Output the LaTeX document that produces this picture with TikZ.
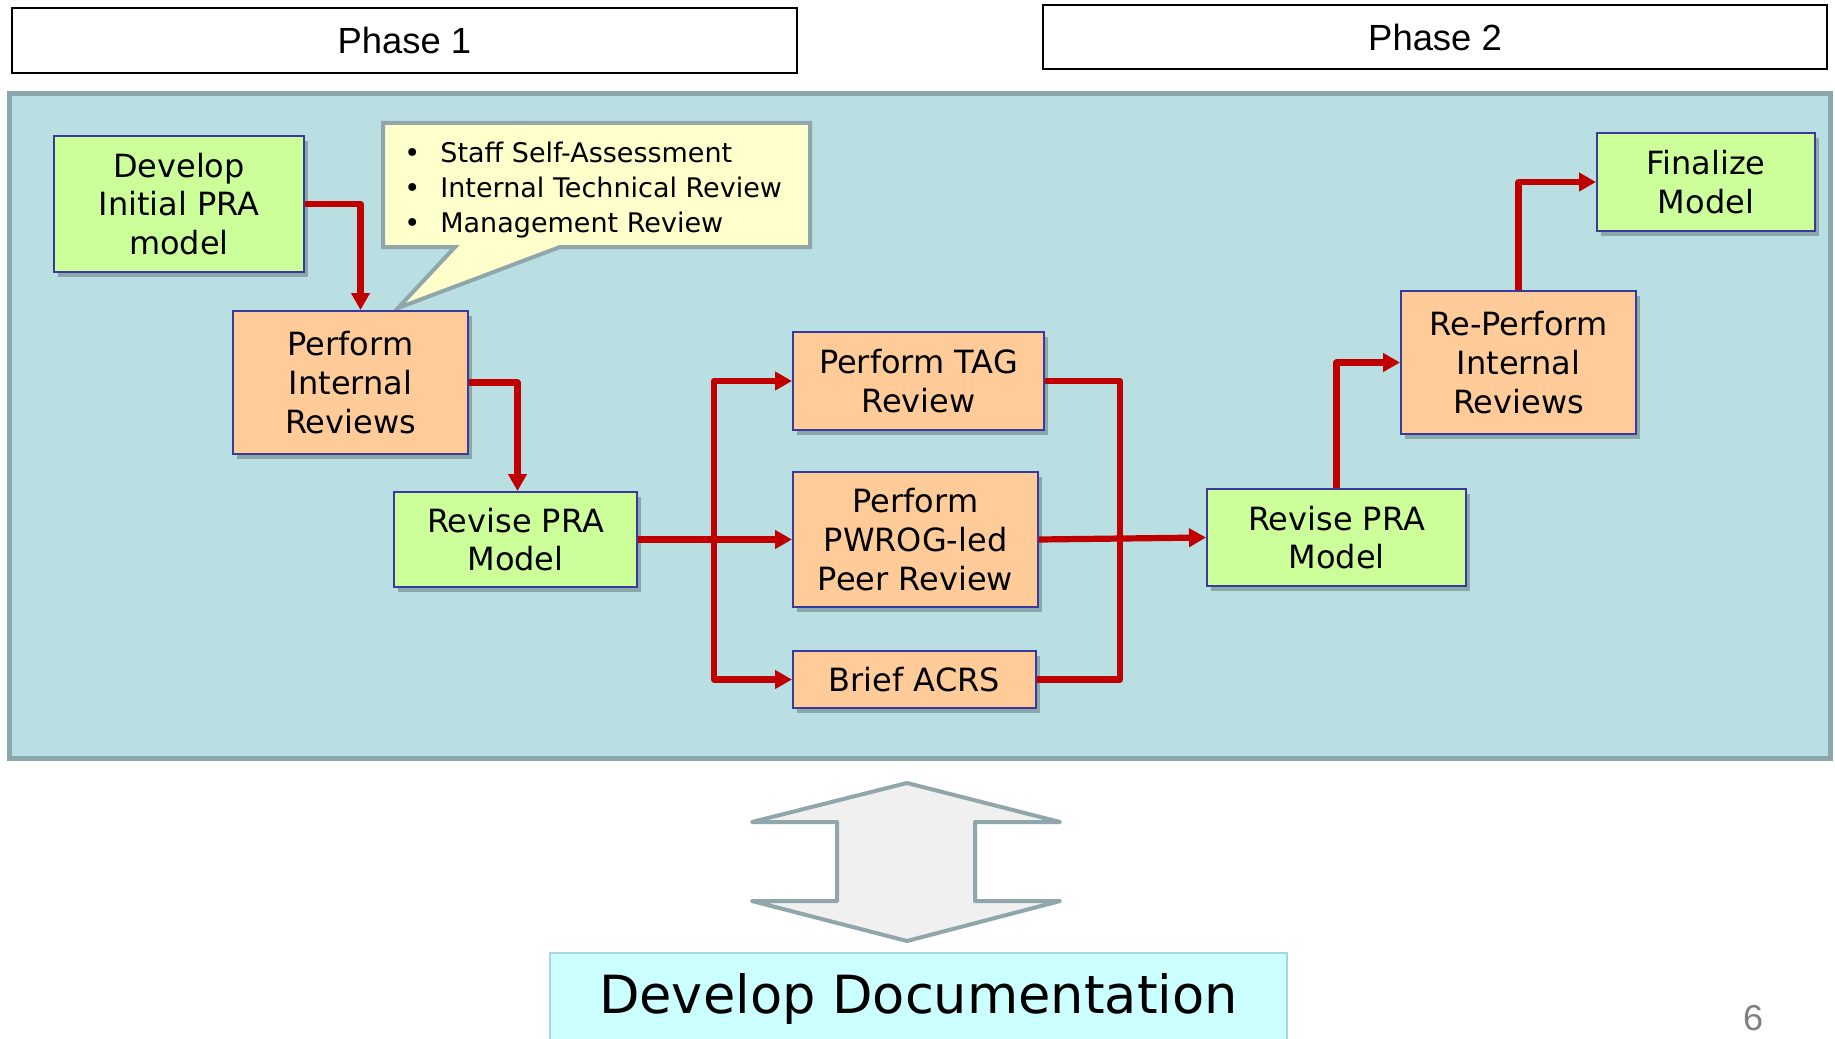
\documentclass[tikz,border=0pt]{standalone}
\usepackage{fontspec}
\setmainfont{DejaVu Sans}
\newfontfamily\arialf{Liberation Sans}
\usetikzlibrary{arrows.meta,shadows,calc}
\definecolor{bgteal}{HTML}{B9DFE3}
\definecolor{bgedge}{HTML}{8AA8AB}
\definecolor{boxgreen}{HTML}{CCFF99}
\definecolor{boxorange}{HTML}{FFCC99}
\definecolor{boxblue}{HTML}{3A3A9E}
\definecolor{flowred}{HTML}{C00000}
\definecolor{notefill}{HTML}{FFFFCC}
\definecolor{noteedge}{HTML}{8FA6AA}
\definecolor{arrowfill}{HTML}{F0F0F0}
\definecolor{docfill}{HTML}{CCFFFF}
\definecolor{docedge}{HTML}{A9D6D8}
\definecolor{pagegrey}{HTML}{808080}
\begin{document}
\begin{tikzpicture}[x=0.5pt,y=-0.5pt,
  procbox/.style={draw=boxblue, line width=1pt, inner sep=0pt, align=center,
    font=\fontsize{16}{19.3}\selectfont,
    drop shadow={shadow xshift=2pt, shadow yshift=-2.5pt, opacity=0.25, fill=black}},
  greenbox/.style={procbox, fill=boxgreen},
  orangebox/.style={procbox, fill=boxorange},
  phasebox/.style={draw=black, line width=1pt, fill=white, inner sep=0pt,
    font=\arialf\fontsize{18.2}{22}\selectfont},
  flow/.style={draw=flowred, line width=3.1pt, line join=round,
    -{Triangle[length=8.5pt,width=9pt]}},
  flowline/.style={draw=flowred, line width=3.1pt, line join=round}]
\useasboundingbox (0,0) rectangle (1835,1038);
\fill[white] (0,0) rectangle (1835,1038);

% phase headers
\node[phasebox, minimum width=392.5pt, minimum height=32.5pt] (ph1) at (404.5,40.5) {Phase 1};
\node[phasebox, minimum width=392pt, minimum height=32pt] (ph2) at (1435,37) {Phase 2};

% teal background
\draw[fill=bgteal, draw=bgedge, line width=2.5pt] (9,94) rectangle (1830,758);

% callout
\draw[fill=notefill, draw=noteedge, line width=2pt, line join=miter]
  (383,123) -- (810,123) -- (810,247) -- (560,247) -- (398,308) -- (455,247) -- (383,247) -- cycle;
\node[anchor=west, inner sep=0pt, align=left, font=\fontsize{13.5}{17.5}\selectfont] (callout) at (404,190.5)
  {\makebox[18pt][l]{•}Staff Self-Assessment\\
   \makebox[18pt][l]{•}Internal Technical Review\\
   \makebox[18pt][l]{•}Management Review};

% process boxes
\node[greenbox, minimum width=125pt, minimum height=68pt] (dev) at (179,204) {Develop\\Initial PRA\\model};
\node[orangebox, minimum width=117.5pt, minimum height=71.5pt] (pir) at (350.5,382.5) {\raisebox{-1.7pt}{\parbox{110pt}{\centering Perform\\Internal\\Reviews}}};
\node[greenbox, minimum width=121.5pt, minimum height=47.5pt] (rev1) at (515.5,539.5) {Revise PRA\\Model};
\node[orangebox, minimum width=125.5pt, minimum height=49pt] (tag) at (918.5,381) {Perform TAG\\Review};
\node[orangebox, minimum width=122.5pt, minimum height=67.5pt] (pwr) at (915.5,539.5) {Perform\\PWROG-led\\Peer Review};
\node[orangebox, minimum width=121.5pt, minimum height=28.5pt] (acrs) at (914.5,679.5) {Brief ACRS};
\node[greenbox, minimum width=129.5pt, minimum height=48.5pt] (rev2) at (1336.5,537.5) {Revise PRA\\Model};
\node[orangebox, minimum width=117.5pt, minimum height=71.5pt] (rpi) at (1518.5,362.5) {\raisebox{-1.7pt}{\parbox{110pt}{\centering Re-Perform\\Internal\\Reviews}}};
\node[greenbox, minimum width=109pt, minimum height=49pt] (fin) at (1706,182) {Finalize\\Model};

% connectors
\draw[flow] (dev.east) -| ([xshift=5pt]pir.north);
\draw[flow] (pir.east) -| ([xshift=1pt]rev1.north);
\coordinate (split) at (714,539.5);
\draw[flow] (rev1.east) -- (pwr.west);
\draw[flow] (split) |- (tag.west);
\draw[flow] (split) |- (acrs.west);
\coordinate (join) at (1120,381);
\draw[flowline] (tag.east) -- (join) |- (acrs.east);
\draw[flow] (pwr.east) -- (rev2.west);
\draw[flow] (rev2.north) |- (rpi.west);
\draw[flow] (rpi.north) |- (fin.west);

% double arrow
\draw[fill=arrowfill, draw=noteedge, line width=2pt, line join=round]
  (907,783) -- (1060,822) -- (975,822) -- (975,901) -- (1060,901) -- (907,941)
  -- (752,901) -- (837,901) -- (837,822) -- (752,822) -- cycle;

% documentation box
\node[draw=docedge, fill=docfill, line width=0.8pt, minimum width=368.5pt, minimum height=46pt,
  inner sep=0pt, font=\fontsize{26.3}{30}\selectfont] (doc) at (918.5,999) {Develop Documentation};

% page number
\node[anchor=base, inner sep=0pt, text=pagegrey, font=\arialf\fontsize{18}{20}\selectfont] (pnum) at (1753,1030) {6};
\end{tikzpicture}
\end{document}
